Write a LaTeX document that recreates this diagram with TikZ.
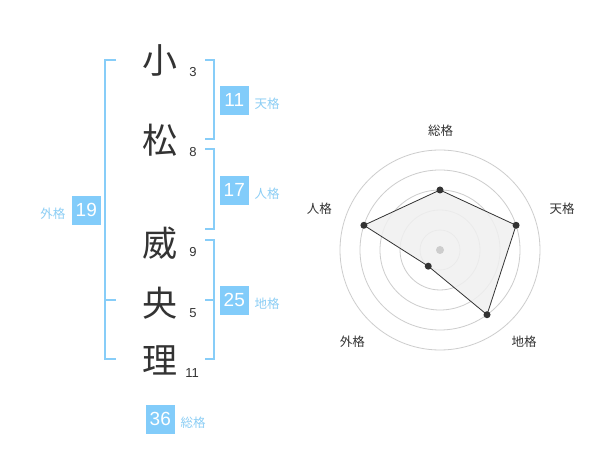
\documentclass[tikz,border=0pt]{standalone}
\usepackage{fontspec}
\setmainfont{Liberation Sans}
\newfontfamily\cjk{Noto Sans CJK JP}
\definecolor{brk}{RGB}{135,205,248}
\definecolor{boxc}{RGB}{130,204,250}
\definecolor{lbl}{RGB}{140,206,245}
\definecolor{ink}{RGB}{51,51,51}
\definecolor{ring}{RGB}{205,205,205}
\definecolor{area}{RGB}{240,240,240}
\tikzset{
  kanji/.style={font=\cjk\fontsize{35}{35}\selectfont, text=ink, inner sep=0pt},
  strokes/.style={font=\fontsize{13}{13}\selectfont, text=ink, inner sep=0pt},
  numbox/.style={fill=boxc, text=white, minimum width=28.7pt, minimum height=28.7pt, inner sep=0pt, font=\fontsize{19}{19}\selectfont},
  kaku/.style={font=\cjk\fontsize{12.5}{12.5}\selectfont, text=lbl, inner sep=0pt},
  bracket/.style={draw=brk, line width=2pt},
  axlabel/.style={font=\cjk\fontsize{12.5}{12.5}\selectfont, text=ink, inner sep=0pt},
  ringline/.style={draw=ring, line width=0.8pt},
  dot/.style={circle, fill=ink, minimum size=7pt, inner sep=0pt},
}
\begin{document}
\begin{tikzpicture}[x=1pt,y=-1pt]
\useasboundingbox (0,0) rectangle (600,470);
\fill[white] (0,0) rectangle (600,470);
% kanji
\node[kanji] (k1) at (160,60) {小};
\node[kanji] (k2) at (160,140) {松};
\node[kanji] (k3) at (160,243) {威};
\node[kanji] (k4) at (160,303) {央};
\node[kanji] (k5) at (160,360) {理};
\node[strokes] (s1) at (193,72.5) {3};
\node[strokes] (s2) at (193,152.5) {8};
\node[strokes] (s3) at (193,252.5) {9};
\node[strokes] (s4) at (193,313.5) {5};
\node[strokes] (s5) at (192,373.5) {11};
% brackets
\draw[bracket] (116,60) -- (105,60) -- (105,359.5) -- (116,359.5);
\draw[bracket] (105,300) -- (116,300);
\draw[bracket] (205,60) -- (214.3,60) -- (214.3,139.5) -- (205,139.5);
\draw[bracket] (205,149.5) -- (214.3,149.5) -- (214.3,229.5) -- (205,229.5);
\draw[bracket] (205,240) -- (214.3,240) -- (214.3,359.5) -- (205,359.5);
\draw[bracket] (205,300) -- (214.3,300);
% boxes
\node[numbox] (ten) at (234.3,100.3) {11};
\node[kaku, anchor=west] (tenl) at (254.5,104) {天格};
\node[numbox] (jin) at (234.3,190.3) {17};
\node[kaku, anchor=west] (jinl) at (254.5,194) {人格};
\node[numbox] (gai) at (86.3,210.3) {19};
\node[kaku, anchor=east] (gail) at (65.5,214) {外格};
\node[numbox] (chi) at (234.3,300.3) {25};
\node[kaku, anchor=west] (chil) at (254.5,304) {地格};
\node[numbox] (sou) at (160.3,419.3) {36};
\node[kaku, anchor=west] (soul) at (180.5,422.7) {総格};
% radar
\coordinate (c) at (440,250);
\foreach \r in {20,40,60,80,100} \draw[ringline] (c) circle[radius=\r pt];
\path (c) ++(-90:60) coordinate (pSo);
\path (c) ++(-18:80) coordinate (pTe);
\path (c) ++(54:80) coordinate (pCh);
\path (c) ++(126:20) coordinate (pGa);
\path (c) ++(198:80) coordinate (pJi);
\filldraw[fill=area, fill opacity=0.85, draw=ink, line width=0.8pt] (pSo) -- (pTe) -- (pCh) -- (pGa) -- (pJi) -- cycle;
\node[circle, fill=ring, minimum size=8pt, inner sep=0pt] (cd) at (c) {};
\foreach \p in {pSo,pTe,pCh,pGa,pJi} \node[dot] at (\p) {};
\node[axlabel] (lSo) at (440.7,130.7) {総格};
\node[axlabel] (lTe) at (562,208.7) {天格};
\node[axlabel] (lCh) at (524,341.7) {地格};
\node[axlabel] (lGa) at (352.3,341.7) {外格};
\node[axlabel] (lJi) at (319.3,208.7) {人格};
\end{tikzpicture}
\end{document}
